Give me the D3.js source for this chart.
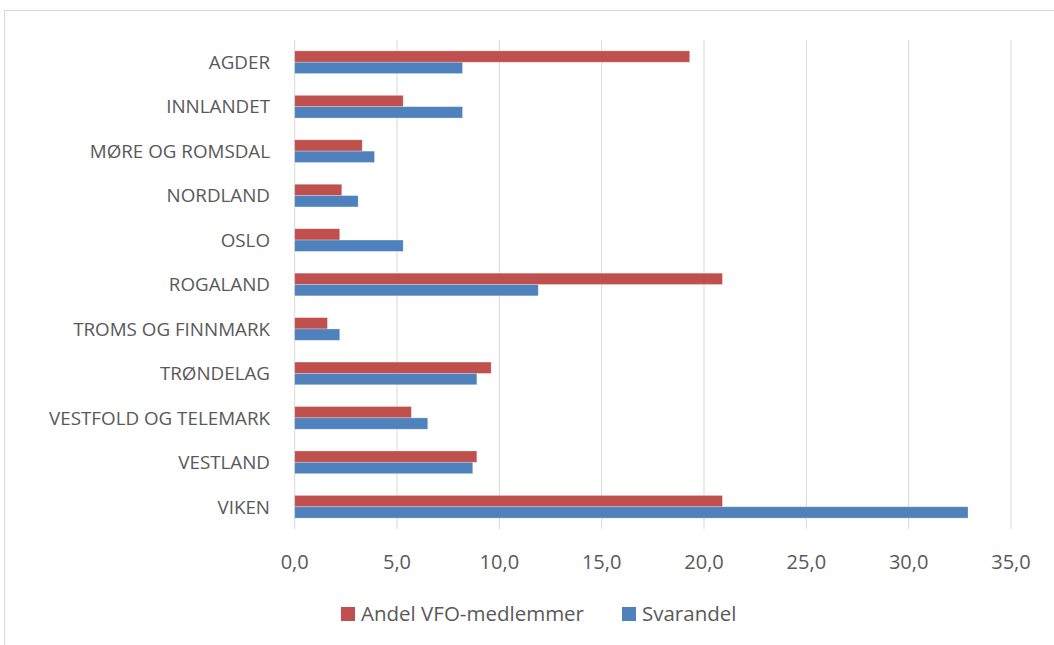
<!DOCTYPE html>
<html>
<head>
<meta charset="utf-8">
<script src="https://cdn.jsdelivr.net/npm/d3@7"></script>
<style>
  body { margin: 0; background: #fff; }
  text { font-family: "Open Sans", "DejaVu Sans", sans-serif; fill: #595959; }
</style>
</head>
<body>
<svg id="chart" width="1054" height="645"></svg>
<script>
// data
const regions = ['AGDER', 'INNLANDET', 'MØRE OG ROMSDAL', 'NORDLAND', 'OSLO', 'ROGALAND',
  'TROMS OG FINNMARK', 'TRØNDELAG', 'VESTFOLD OG TELEMARK', 'VESTLAND', 'VIKEN'];
const andelVfo = [19.3, 5.3, 3.3, 2.3, 2.2, 20.9, 1.6, 9.6, 5.7, 8.9, 20.9];
const svarandel = [8.2, 8.2, 3.9, 3.1, 5.3, 11.9, 2.2, 8.9, 6.5, 8.7, 32.9];
const seriesNames = ['Andel VFO-medlemmer', 'Svarandel'];
const seriesColors = ['#c0504d', '#4f81bd'];
const xTicks = [0, 5, 10, 15, 20, 25, 30, 35];

const svg = d3.select('#chart');

// outer chart border
svg.append('rect')
    .attr('x', 4.5).attr('y', 10.5)
    .attr('width', 1200).attr('height', 800)
    .attr('fill', 'none')
    .attr('stroke', '#d9d9d9');

const x = d3.scaleLinear().domain([0, 35]).range([294.7, 1011]);
const y = d3.scaleBand().domain(regions).range([40, 529])
    .paddingInner(0.49).paddingOuter(0.245);
const ySub = d3.scaleBand().domain([0, 1]).range([0, y.bandwidth()]);

// gridlines
svg.append('g')
    .selectAll('line')
    .data(xTicks)
    .enter()
    .append('line')
    .attr('x1', d => x(d)).attr('x2', d => x(d))
    .attr('y1', 40).attr('y2', 529)
    .attr('stroke', '#d9d9d9')
    .attr('stroke-width', 1);

// tick labels
svg.append('g')
    .selectAll('text')
    .data(xTicks)
    .enter()
    .append('text')
    .attr('x', d => x(d))
    .attr('y', 569)
    .attr('text-anchor', 'middle')
    .style('font-size', '20px')
    .text(d => d.toFixed(1).replace('.', ','));

// bars
const rows = regions.map((r, i) => ({region: r, values: [andelVfo[i], svarandel[i]]}));
const groups = svg.append('g')
    .selectAll('g')
    .data(rows)
    .enter()
    .append('g')
    .attr('transform', d => `translate(0,${y(d.region)})`);

groups.selectAll('rect')
    .data(d => d.values)
    .enter()
    .append('rect')
    .attr('x', x(0))
    .attr('y', (d, i) => ySub(i))
    .attr('width', d => x(d) - x(0))
    .attr('height', ySub.bandwidth())
    .attr('fill', (d, i) => seriesColors[i])
    .attr('stroke', '#fff')
    .attr('stroke-opacity', 0.35)
    .attr('stroke-width', 0.75);

// category labels
svg.append('g')
    .selectAll('text')
    .data(regions)
    .enter()
    .append('text')
    .attr('x', 270)
    .attr('y', d => y(d) + y.bandwidth() / 2)
    .attr('dy', '0.36em')
    .attr('text-anchor', 'end')
    .style('font-size', '18.8px')
    .text(d => d);

// legend
const legendX = [341, 622];
const legend = svg.append('g')
    .selectAll('g')
    .data(seriesNames)
    .enter()
    .append('g')
    .attr('transform', (d, i) => `translate(${legendX[i]},607)`);

legend.append('rect')
    .attr('width', 14).attr('height', 14)
    .attr('fill', (d, i) => seriesColors[i]);

legend.append('text')
    .attr('x', 20)
    .attr('y', 7)
    .attr('dy', '0.36em')
    .style('font-size', '20.5px')
    .text(d => d);
</script>
</body>
</html>
